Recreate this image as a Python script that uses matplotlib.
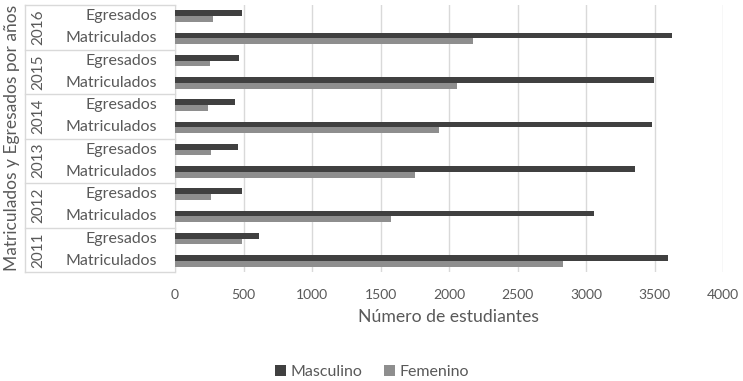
import numpy as np
import matplotlib
matplotlib.use("Agg")
import matplotlib.pyplot as plt
from matplotlib.lines import Line2D
import matplotlib.transforms as mtransforms

plt.rcParams['font.family'] = ['Lato', 'DejaVu Sans']

# -- Data (bottom to top)
years = ["2011", "2012", "2013", "2014", "2015", "2016"]
kinds = ["Matriculados", "Egresados"]
masculino = [3600, 610, 3060, 490, 3360, 460, 3480, 435, 3495, 465, 3625, 487]
femenino  = [2830, 487, 1580, 265, 1750, 265, 1930, 238, 2060, 255, 2175, 275]
xticks = [0, 500, 1000, 1500, 2000, 2500, 3000, 3500, 4000]

dark  = "#404040"
light = "#8e8e8e"
txt   = "#595959"
grid  = "#d9d9d9"

fig = plt.figure(figsize=(7.43, 3.81), dpi=100)
ax = fig.add_axes([175/743, 1-272/381, 548/743, 267/381])

y = np.arange(len(masculino))
h = 0.26
ax.barh(y + h/2, masculino, height=h, color=dark, label="Masculino", zorder=3)
ax.barh(y - h/2, femenino, height=h, color=light, label="Femenino", zorder=3)

ax.set_xlim(0, 4000)
ax.set_ylim(-0.5, len(masculino) - 0.5)
ax.set_xticks(xticks)
ax.set_xticklabels([str(t) for t in xticks], color=txt, fontsize=10)
ax.tick_params(axis='x', length=0, pad=12)
ax.set_yticks([])
ax.grid(axis='x', color=grid, linewidth=1, zorder=0)
for s in ["top", "right", "bottom"]:
    ax.spines[s].set_visible(False)
ax.spines["left"].set_color(grid)

ax.set_xlabel("Número de estudiantes", color=txt, fontsize=12.7, labelpad=6)

# -- Multi-level category labels
tr = mtransforms.blended_transform_factory(ax.transAxes, ax.transData)
x_out = (25 - 175) / 548
for i, yr in enumerate(years):
    for j, k in enumerate(kinds):
        ax.text(-0.033, 2*i + j, k, transform=tr, ha='right', va='center',
                color=txt, fontsize=11.5)
    ax.text((38 - 175) / 548, 2*i + 0.5, yr, transform=tr, rotation=90,
            ha='center', va='center', color=txt, fontsize=11)
for b in np.arange(-0.5, len(masculino), 2):
    ax.add_line(Line2D([x_out, 0], [b, b], transform=tr, color=grid,
                       linewidth=1, clip_on=False))
ax.add_line(Line2D([x_out, x_out], [-0.5, len(masculino) - 0.5], transform=tr,
                   color=grid, linewidth=1, clip_on=False))

fig.text(12/743, 1 - 138/381, "Matriculados y Egresados por años", rotation=90,
         ha='center', va='center', color=txt, fontsize=12.5)

fig.legend(loc='center', bbox_to_anchor=(372/743, 1 - 372/381), ncol=2,
           frameon=False, fontsize=11.5, labelcolor=txt, handlelength=0.7,
           handleheight=0.7, handletextpad=0.3, columnspacing=1.3)

fig.savefig("out.png", dpi=100)
